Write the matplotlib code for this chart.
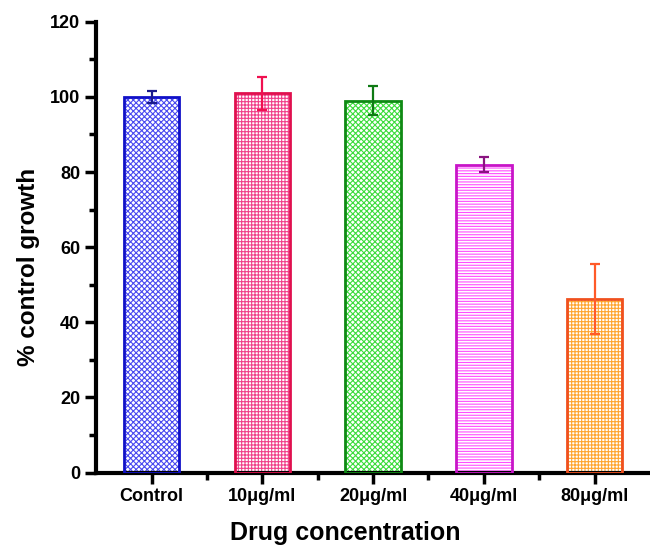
import numpy as np
import matplotlib
matplotlib.use('Agg')
import matplotlib.pyplot as plt
from matplotlib.ticker import MultipleLocator, FixedLocator

plt.rcParams['font.family'] = ['Liberation Sans', 'DejaVu Sans']
plt.rcParams['font.weight'] = 'bold'
plt.rcParams['hatch.linewidth'] = 0.8

labels = ['Control', '10\u03bcg/ml', '20\u03bcg/ml', '40\u03bcg/ml', '80\u03bcg/ml']
values = [100.0, 101.0, 99.0, 82.0, 46.2]
errors = [1.6, 4.4, 3.8, 2.0, 9.2]

edge_colors = ['#1010C8', '#E0104E', '#0F8A14', '#C814C8', '#F0501E']
hatch_colors = ['#4A4AF0', '#F0408A', '#3CDC3C', '#FF50FF', '#FFA530']
err_colors = ['#1A1A8C', '#F01050', '#0F7A14', '#8A1480', '#FF5A28']
hatches = ['xxxxxx', '+++++', 'xxxxxx', '------', '+++++']

fig = plt.figure(figsize=(6.5, 5.45), dpi=100)
ax = fig.add_axes([0.148, 0.133, 0.852, 0.827])

x = np.arange(len(labels))
for i in range(len(labels)):
    ax.bar(x[i], values[i], 0.5, color='white', edgecolor=hatch_colors[i],
           hatch=hatches[i], linewidth=0, zorder=2)
    ax.bar(x[i], values[i], 0.5, fill=False, edgecolor=edge_colors[i],
           linewidth=2, zorder=3)
    ax.errorbar(x[i], values[i], yerr=errors[i], color=err_colors[i],
                capsize=3.5, capthick=1.6, elinewidth=1.6, zorder=4)

ax.set_xlim(-0.5, 4.5)
ax.set_ylim(0, 120)
ax.yaxis.set_major_locator(MultipleLocator(20))
ax.yaxis.set_minor_locator(MultipleLocator(10))
ax.set_xticks(x)
ax.set_xticklabels(labels)
ax.xaxis.set_minor_locator(FixedLocator([0.5, 1.5, 2.5, 3.5]))

for s in ['top', 'right']:
    ax.spines[s].set_visible(False)
for s in ['left', 'bottom']:
    ax.spines[s].set_linewidth(3)

ax.tick_params(axis='both', which='major', width=2.5, length=8, labelsize=13)
ax.tick_params(axis='both', which='minor', width=2.5, length=5)
ax.tick_params(axis='x', which='major', pad=3)

ax.set_ylabel('% control growth', fontsize=17.5, fontweight='bold')
ax.yaxis.set_label_coords(-0.102, 0.456)
ax.set_xlabel('Drug concentration', fontsize=18, fontweight='bold')
ax.xaxis.set_label_coords(0.45, -0.107)

fig.savefig('out.png', dpi=100)
